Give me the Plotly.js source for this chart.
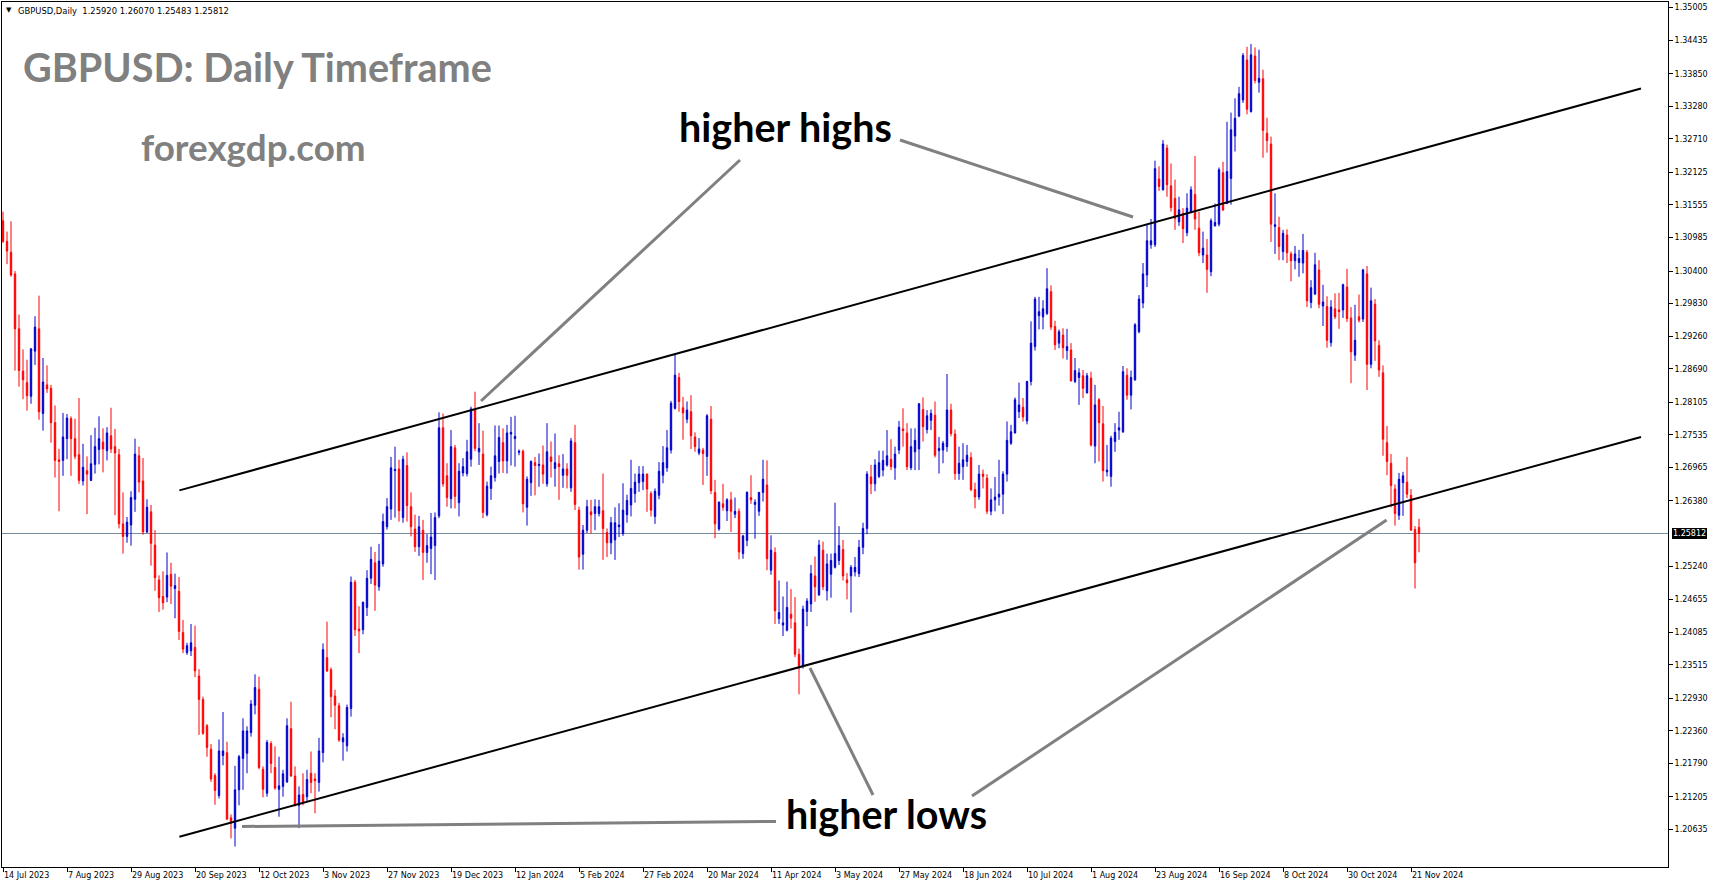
<!DOCTYPE html>
<html><head><meta charset="utf-8">
<script src="https://cdn.plot.ly/plotly-3.0.1.min.js"></script>
<style>html,body{margin:0;padding:0;background:#fff;overflow:hidden}#chart{width:1714px;height:888px}</style>
</head><body><div id="chart"></div>
<script>
// ---- tick labels ----
const dateLabels = ['14 Jul 2023','7 Aug 2023','29 Aug 2023','20 Sep 2023','12 Oct 2023','3 Nov 2023','27 Nov 2023','19 Dec 2023','12 Jan 2024','5 Feb 2024','27 Feb 2024','20 Mar 2024','11 Apr 2024','3 May 2024','27 May 2024','18 Jun 2024','10 Jul 2024','1 Aug 2024','23 Aug 2024','16 Sep 2024','8 Oct 2024','30 Oct 2024','21 Nov 2024'];
const dateLabelBars = [0,16,32,48,64,80,96,112,128,144,160,176,192,208,224,240,256,272,288,304,320,336,352];
const priceTickLabels = ['1.35005','1.34435','1.33850','1.33280','1.32710','1.32125','1.31555','1.30985','1.30400','1.29830','1.29260','1.28690','1.28105','1.27535','1.26965','1.26380','1.25240','1.24655','1.24085','1.23515','1.22930','1.22360','1.21790','1.21205','1.20635'];

// ---- GBPUSD daily OHLC (bar 0 = 14 Jul 2023) ----
const openP = [
1.3128,1.3092,1.3073,1.3035,1.2939,1.2865,1.2845,1.2821,1.2900,1.2939,
1.2791,1.2841,1.2835,1.2775,1.2710,1.2709,1.2747,1.2782,1.2747,1.2719,
1.2673,1.2691,1.2674,1.2702,1.2728,1.2741,1.2726,1.2752,1.2733,1.2719,
1.2598,1.2576,1.2596,1.2641,1.2717,1.2673,1.2584,1.2619,1.2561,1.2500,
1.2471,1.2470,1.2510,1.2485,1.2480,1.2408,1.2373,1.2376,1.2382,1.2332,
1.2291,1.2245,1.2204,1.2158,1.2123,1.2193,1.2198,1.2084,1.2066,1.2133,
1.2188,1.2197,1.2233,1.2281,1.2309,1.2169,1.2127,1.2214,1.2172,1.2134,
1.2139,1.2147,1.2240,1.2157,1.2106,1.2125,1.2121,1.2162,1.2152,1.2146,
1.2198,1.2364,1.2343,1.2297,1.2280,1.2217,1.2210,1.2275,1.2496,1.2414,
1.2413,1.2452,1.2503,1.2530,1.2488,1.2528,1.2593,1.2624,1.2691,1.2694,
1.2609,1.2700,1.2628,1.2589,1.2558,1.2587,1.2548,1.2555,1.2560,1.2612,
1.2766,1.2682,1.2642,1.2731,1.2635,1.2687,1.2686,1.2711,1.2797,1.2724,
1.2720,1.2614,1.2660,1.2679,1.2707,1.2740,1.2708,1.2755,1.2747,1.2723,
1.2725,1.2627,1.2670,1.2705,1.2700,1.2701,1.2668,1.2715,1.2695,1.2703,
1.2683,1.2694,1.2661,1.2740,1.2622,1.2545,1.2587,1.2619,1.2616,1.2616,
1.2621,1.2583,1.2565,1.2570,1.2593,1.2581,1.2614,1.2631,1.2651,1.2670,
1.2672,1.2685,1.2651,1.2611,1.2648,1.2683,1.2696,1.2727,1.2800,1.2854,
1.2801,1.2781,1.2794,1.2750,1.2722,1.2727,1.2716,1.2781,1.2653,1.2589,
1.2633,1.2621,1.2640,1.2615,1.2620,1.2546,1.2569,1.2644,1.2632,1.2620,
1.2653,1.2666,1.2517,1.2548,1.2432,1.2421,1.2412,1.2440,1.2425,1.2370,
1.2350,1.2445,1.2458,1.2507,1.2474,1.2552,1.2481,1.2510,1.2522,1.2534,
1.2553,1.2500,1.2507,1.2514,1.2511,1.2557,1.2590,1.2680,1.2668,1.2681,
1.2692,1.2701,1.2711,1.2696,1.2727,1.2764,1.2757,1.2696,1.2724,1.2729,
1.2798,1.2763,1.2779,1.2788,1.2726,1.2727,1.2733,1.2797,1.2755,1.2686,
1.2698,1.2707,1.2714,1.2658,1.2645,1.2685,1.2678,1.2620,1.2640,1.2645,
1.2650,1.2685,1.2739,1.2757,1.2794,1.2802,1.2778,1.2847,1.2908,1.2962,
1.2960,1.2966,1.3004,1.2943,1.2914,1.2928,1.2901,1.2902,1.2847,1.2854,
1.2857,1.2827,1.2853,1.2734,1.2815,1.2773,1.2689,1.2681,1.2742,1.2762,
1.2759,1.2858,1.2823,1.2850,1.2934,1.2984,1.3033,1.3086,1.3086,1.3201,
1.3182,1.3255,1.3189,1.3167,1.3126,1.3141,1.3107,1.3144,1.3174,1.3115,
1.3068,1.3068,1.3039,1.3119,1.3122,1.3212,1.3158,1.3202,1.3276,1.3311,
1.3339,1.3409,1.3319,1.3416,1.3370,1.3376,1.3281,1.3262,1.3118,1.3116,
1.3074,1.3103,1.3070,1.3058,1.3055,1.3054,1.3073,1.2985,1.3000,1.3042,
1.2979,1.2978,1.2915,1.2974,1.2972,1.2972,1.3012,1.2958,1.2893,1.2960,
1.2956,1.3035,1.2877,1.2982,1.2910,1.2862,1.2740,1.2704,1.2659,1.2613,
1.2670,1.2671,1.2648,1.2588,1.25920];
const highP = [
1.3144,1.3109,1.3127,1.3040,1.2964,1.2903,1.2885,1.2905,1.2961,1.2997,
1.2888,1.2875,1.2841,1.2805,1.2729,1.2792,1.2790,1.2786,1.2782,1.2818,
1.2738,1.2716,1.2753,1.2766,1.2786,1.2765,1.2767,1.2801,1.2764,1.2729,
1.2653,1.2610,1.2655,1.2747,1.2733,1.2713,1.2641,1.2631,1.2587,1.2508,
1.2515,1.2548,1.2530,1.2511,1.2505,1.2430,1.2390,1.2423,1.2420,1.2344,
1.2296,1.2248,1.2213,1.2162,1.2221,1.2269,1.2217,1.2090,1.2175,1.2194,
1.2258,1.2244,1.2290,1.2335,1.2331,1.2174,1.2220,1.2218,1.2209,1.2191,
1.2168,1.2258,1.2287,1.2174,1.2139,1.2162,1.2168,1.2200,1.2162,1.2224,
1.2389,1.2427,1.2347,1.2308,1.2285,1.2232,1.2282,1.2506,1.2500,1.2454,
1.2462,1.2517,1.2558,1.2549,1.2563,1.2616,1.2643,1.2715,1.2733,1.2710,
1.2717,1.2723,1.2653,1.2614,1.2612,1.2605,1.2580,1.2617,1.2618,1.2793,
1.2791,1.2704,1.2762,1.2736,1.2704,1.2713,1.2745,1.2803,1.2829,1.2774,
1.2761,1.2672,1.2698,1.2770,1.2770,1.2765,1.2771,1.2785,1.2787,1.2728,
1.2728,1.2681,1.2709,1.2715,1.2721,1.2735,1.2774,1.2742,1.2756,1.2718,
1.2720,1.2704,1.2748,1.2771,1.2628,1.2596,1.2640,1.2640,1.2641,1.2640,
1.2686,1.2590,1.2610,1.2627,1.2634,1.2669,1.2649,1.2710,1.2686,1.2699,
1.2699,1.2686,1.2655,1.2660,1.2706,1.2734,1.2762,1.2813,1.2896,1.2862,
1.2820,1.2812,1.2823,1.2758,1.2748,1.2731,1.2790,1.2804,1.2675,1.2637,
1.2668,1.2643,1.2654,1.2644,1.2625,1.2579,1.2655,1.2683,1.2641,1.2654,
1.2710,1.2709,1.2578,1.2557,1.2499,1.2471,1.2497,1.2484,1.2470,1.2380,
1.2455,1.2468,1.2526,1.2541,1.2570,1.2567,1.2546,1.2546,1.2635,1.2594,
1.2570,1.2512,1.2526,1.2540,1.2570,1.2600,1.2690,1.2701,1.2711,1.2726,
1.2726,1.2762,1.2746,1.2733,1.2778,1.2800,1.2774,1.2765,1.2765,1.2809,
1.2819,1.2797,1.2798,1.2812,1.2750,1.2743,1.2860,1.2808,1.2763,1.2733,
1.2739,1.2736,1.2723,1.2670,1.2701,1.2693,1.2685,1.2660,1.2680,1.2710,
1.2690,1.2777,1.2771,1.2819,1.2845,1.2818,1.2848,1.2952,1.2995,1.2995,
1.2989,1.3045,1.3015,1.2953,1.2938,1.2940,1.2939,1.2914,1.2888,1.2870,
1.2867,1.2862,1.2864,1.2841,1.2818,1.2804,1.2736,1.2752,1.2774,1.2794,
1.2874,1.2870,1.2866,1.2949,1.2998,1.3054,1.3121,1.3131,1.3233,1.3223,
1.3269,1.3261,1.3228,1.3200,1.3170,1.3150,1.3176,1.3188,1.3241,1.3144,
1.3109,1.3096,1.3132,1.3158,1.3221,1.3231,1.3301,1.3317,1.3342,1.3362,
1.3421,1.3432,1.3437,1.3431,1.3427,1.3392,1.3308,1.3275,1.3176,1.3135,
1.3112,1.3113,1.3074,1.3084,1.3077,1.3105,1.3077,1.3024,1.3072,1.3059,
1.3016,1.2996,1.2989,1.3001,1.3002,1.3018,1.3044,1.2977,1.2981,1.2999,
1.3044,1.3049,1.3011,1.2991,1.2919,1.2875,1.2769,1.2720,1.2667,1.2687,
1.2689,1.2715,1.2659,1.2594,1.26070];
const lowP = [
1.3089,1.3052,1.3030,1.2866,1.2838,1.2816,1.2796,1.2808,1.2876,1.2780,
1.2761,1.2827,1.2740,1.2679,1.2620,1.2682,1.2711,1.2682,1.2711,1.2668,
1.2665,1.2615,1.2673,1.2686,1.2702,1.2688,1.2709,1.2722,1.2613,1.2590,
1.2546,1.2565,1.2560,1.2619,1.2653,1.2579,1.2582,1.2525,1.2481,1.2444,
1.2448,1.2461,1.2458,1.2433,1.2395,1.2372,1.2369,1.2367,1.2330,1.2229,
1.2229,1.2191,1.2147,1.2107,1.2118,1.2176,1.2080,1.2048,1.2034,1.2106,
1.2133,1.2162,1.2226,1.2265,1.2169,1.2120,1.2121,1.2162,1.2133,1.2086,
1.2121,1.2145,1.2156,1.2104,1.2066,1.2106,1.2112,1.2127,1.2092,1.2130,
1.2181,1.2339,1.2260,1.2239,1.2217,1.2184,1.2200,1.2261,1.2402,1.2372,
1.2405,1.2437,1.2493,1.2446,1.2481,1.2523,1.2588,1.2605,1.2609,1.2602,
1.2600,1.2602,1.2576,1.2549,1.2542,1.2500,1.2530,1.2510,1.2500,1.2608,
1.2663,1.2628,1.2625,1.2625,1.2611,1.2681,1.2681,1.2698,1.2725,1.2701,
1.2608,1.2611,1.2640,1.2672,1.2686,1.2687,1.2686,1.2700,1.2698,1.2718,
1.2618,1.2595,1.2647,1.2648,1.2663,1.2668,1.2663,1.2679,1.2663,1.2640,
1.2661,1.2660,1.2654,1.2622,1.2518,1.2518,1.2582,1.2581,1.2587,1.2611,
1.2535,1.2540,1.2545,1.2535,1.2575,1.2577,1.2600,1.2611,1.2635,1.2654,
1.2657,1.2619,1.2611,1.2598,1.2641,1.2669,1.2689,1.2721,1.2798,1.2794,
1.2745,1.2774,1.2729,1.2724,1.2718,1.2666,1.2682,1.2650,1.2573,1.2586,
1.2621,1.2603,1.2584,1.2608,1.2536,1.2537,1.2559,1.2633,1.2572,1.2612,
1.2637,1.2517,1.2509,1.2423,1.2423,1.2402,1.2410,1.2415,1.2365,1.2300,
1.2345,1.2419,1.2444,1.2462,1.2472,1.2482,1.2464,1.2469,1.2520,1.2526,
1.2499,1.2466,1.2443,1.2506,1.2505,1.2545,1.2580,1.2650,1.2655,1.2678,
1.2681,1.2698,1.2692,1.2675,1.2720,1.2733,1.2692,1.2692,1.2692,1.2692,
1.2742,1.2756,1.2762,1.2714,1.2686,1.2704,1.2724,1.2751,1.2675,1.2675,
1.2675,1.2698,1.2655,1.2625,1.2640,1.2660,1.2615,1.2613,1.2620,1.2630,
1.2615,1.2672,1.2736,1.2756,1.2783,1.2777,1.2772,1.2840,1.2901,1.2938,
1.2938,1.2963,1.2937,1.2902,1.2905,1.2887,1.2885,1.2847,1.2844,1.2806,
1.2818,1.2826,1.2733,1.2704,1.2707,1.2672,1.2681,1.2663,1.2724,1.2745,
1.2757,1.2815,1.2798,1.2848,1.2931,1.2975,1.3012,1.3079,1.3082,1.3180,
1.3181,1.3170,1.3144,1.3112,1.3119,1.3089,1.3101,1.3141,1.3112,1.3066,
1.3054,1.3002,1.3031,1.3118,1.3118,1.3145,1.3157,1.3156,1.3249,1.3309,
1.3334,1.3314,1.3317,1.3368,1.3352,1.3238,1.3247,1.3091,1.3070,1.3059,
1.3059,1.3054,1.3022,1.3043,1.3030,1.3036,1.2977,1.2975,1.2998,1.2975,
1.2944,1.2906,1.2908,1.2956,1.2939,1.2958,1.2951,1.2844,1.2883,1.2950,
1.2951,1.2832,1.2870,1.2883,1.2855,1.2717,1.2683,1.2627,1.2595,1.2605,
1.2612,1.2643,1.2586,1.2485,1.25483];
const closeP = [
1.3092,1.3075,1.3033,1.2939,1.2866,1.2850,1.2822,1.2904,1.2942,1.2794,
1.2846,1.2834,1.2775,1.2709,1.2707,1.2750,1.2783,1.2747,1.2716,1.2674,
1.2697,1.2685,1.2703,1.2733,1.2747,1.2729,1.2757,1.2729,1.2722,1.2598,
1.2576,1.2601,1.2644,1.2720,1.2671,1.2584,1.2627,1.2564,1.2504,1.2469,
1.2460,1.2508,1.2489,1.2490,1.2410,1.2379,1.2385,1.2390,1.2341,1.2291,
1.2232,1.2207,1.2152,1.2132,1.2201,1.2201,1.2082,1.2075,1.2133,1.2191,
1.2236,1.2236,1.2283,1.2312,1.2172,1.2134,1.2216,1.2179,1.2136,1.2140,
1.2161,1.2245,1.2157,1.2106,1.2124,1.2112,1.2151,1.2146,1.2149,1.2201,
1.2378,1.2341,1.2296,1.2281,1.2220,1.2224,1.2277,1.2496,1.2413,1.2411,
1.2461,1.2503,1.2536,1.2491,1.2533,1.2602,1.2628,1.2696,1.2693,1.2621,
1.2711,1.2630,1.2593,1.2558,1.2593,1.2548,1.2560,1.2575,1.2609,1.2766,
1.2668,1.2644,1.2733,1.2646,1.2690,1.2698,1.2724,1.2799,1.2730,1.2730,
1.2618,1.2664,1.2682,1.2717,1.2749,1.2708,1.2757,1.2758,1.2751,1.2725,
1.2633,1.2676,1.2707,1.2700,1.2702,1.2685,1.2724,1.2707,1.2705,1.2698,
1.2694,1.2683,1.2743,1.2632,1.2540,1.2587,1.2628,1.2614,1.2628,1.2628,
1.2590,1.2565,1.2600,1.2600,1.2596,1.2622,1.2639,1.2660,1.2671,1.2685,
1.2685,1.2659,1.2622,1.2655,1.2690,1.2705,1.2731,1.2809,1.2858,1.2812,
1.2792,1.2797,1.2752,1.2733,1.2729,1.2721,1.2787,1.2656,1.2598,1.2636,
1.2627,1.2640,1.2620,1.2620,1.2549,1.2577,1.2653,1.2640,1.2636,1.2653,
1.2676,1.2537,1.2552,1.2446,1.2443,1.2425,1.2452,1.2433,1.2370,1.2350,
1.2449,1.2463,1.2511,1.2488,1.2561,1.2488,1.2528,1.2534,1.2546,1.2560,
1.2507,1.2495,1.2522,1.2522,1.2557,1.2590,1.2685,1.2668,1.2701,1.2705,
1.2709,1.2717,1.2698,1.2720,1.2767,1.2761,1.2698,1.2733,1.2744,1.2808,
1.2768,1.2787,1.2791,1.2718,1.2730,1.2739,1.2797,1.2756,1.2686,1.2704,
1.2710,1.2718,1.2658,1.2645,1.2685,1.2681,1.2620,1.2640,1.2645,1.2650,
1.2685,1.2744,1.2759,1.2815,1.2806,1.2785,1.2847,1.2914,1.2991,1.2969,
1.2974,1.3009,1.2942,1.2911,1.2934,1.2906,1.2908,1.2848,1.2866,1.2862,
1.2835,1.2857,1.2736,1.2806,1.2775,1.2691,1.2692,1.2748,1.2758,1.2766,
1.2864,1.2823,1.2854,1.2946,1.2991,1.3035,1.3093,1.3093,1.3219,1.3188,
1.3262,1.3191,1.3151,1.3132,1.3147,1.3114,1.3150,1.3182,1.3131,1.3072,
1.3080,1.3043,1.3128,1.3125,1.3217,1.3147,1.3214,1.3287,1.3307,1.3350,
1.3417,1.3323,1.3418,1.3373,1.3377,1.3286,1.3268,1.3122,1.3121,1.3083,
1.3106,1.3072,1.3058,1.3070,1.3062,1.3076,1.2988,1.3011,1.3051,1.2982,
1.2986,1.2919,1.2977,1.2960,1.2969,1.3016,1.2957,1.2899,1.2919,1.2954,
1.3042,1.2877,1.2988,1.2918,1.2867,1.2746,1.2707,1.2665,1.2616,1.2676,
1.2682,1.2650,1.2587,1.2530,1.25812];

// ---- drawn objects (bar index, price) ----
const upperLineX = [44.1, 409.5];
const upperLineY = [1.26565, 1.33592];
const lowerLineX = [44.1, 409.5];
const lowerLineY = [1.20511, 1.27499];
const highPointerAX = [119.5, 184.25];
const highPointerAY = [1.28128, 1.32342];
const highPointerBX = [224.25, 282.5];
const highPointerBY = [1.32691, 1.31345];
const lowPointerAX = [59.75, 193.25];
const lowPointerAY = [1.20689, 1.20777];
const lowPointerBX = [201.75, 217.5];
const lowPointerBY = [1.2346, 1.2124];
const lowPointerCX = [242.25, 345.9];
const lowPointerCY = [1.21222, 1.26048];

const headerText = 'GBPUSD,Daily  1.25920 1.26070 1.25483 1.25812';
const lastPrice = closeP[closeP.length - 1];
const barIndex = openP.map((_, i) => i);
const priceTickValues = priceTickLabels.map(Number);

const axFont = {family: 'DejaVu Sans', size: 8, color: '#000'};
const bigFont = (size, color) => ({family: 'Lato', size: size, color: color, weight: 700});

const traces = [
  {type: 'candlestick', x: barIndex, open: openP, high: highP, low: lowP, close: closeP,
   increasing: {line: {color: '#0000CD', width: 1}, fillcolor: '#0000CD'},
   decreasing: {line: {color: '#FF0000', width: 1}, fillcolor: '#FF0000'},
   whiskerwidth: 0, hoverinfo: 'skip'},
  {type: 'scatter', mode: 'lines', x: upperLineX, y: upperLineY, line: {color: '#000', width: 2}, hoverinfo: 'skip'},
  {type: 'scatter', mode: 'lines', x: lowerLineX, y: lowerLineY, line: {color: '#000', width: 2}, hoverinfo: 'skip'},
  {type: 'scatter', mode: 'lines', x: highPointerAX, y: highPointerAY, line: {color: '#808080', width: 3}, hoverinfo: 'skip'},
  {type: 'scatter', mode: 'lines', x: highPointerBX, y: highPointerBY, line: {color: '#808080', width: 3}, hoverinfo: 'skip'},
  {type: 'scatter', mode: 'lines', x: lowPointerAX, y: lowPointerAY, line: {color: '#808080', width: 3}, hoverinfo: 'skip'},
  {type: 'scatter', mode: 'lines', x: lowPointerBX, y: lowPointerBY, line: {color: '#808080', width: 3}, hoverinfo: 'skip'},
  {type: 'scatter', mode: 'lines', x: lowPointerCX, y: lowPointerCY, line: {color: '#808080', width: 3}, hoverinfo: 'skip'}
];

const layout = {
  width: 1714, height: 888,
  margin: {l: 2, r: 46, t: 2, b: 21, pad: 0},
  paper_bgcolor: '#ffffff', plot_bgcolor: '#ffffff',
  showlegend: false,
  boxgap: 0.5,
  xaxis: {range: [-0.25, 416.25], tickmode: 'array', tickvals: dateLabelBars, ticktext: dateLabels,
          ticks: 'outside', ticklen: 4, tickwidth: 1, tickcolor: '#000', ticklabelposition: 'outside right',
          tickfont: axFont, tickangle: 0, showline: true, mirror: true, linecolor: '#000', linewidth: 1,
          showgrid: false, zeroline: false, rangeslider: {visible: false}, fixedrange: true},
  yaxis: {side: 'right', range: [1.19981, 1.35104], tickmode: 'array', tickvals: priceTickValues, ticktext: priceTickLabels,
          ticks: 'outside', ticklen: 4, tickwidth: 1, tickcolor: '#000', tickfont: axFont,
          showline: true, mirror: true, linecolor: '#000', linewidth: 1, showgrid: false, zeroline: false, fixedrange: true},
  shapes: [
    {type: 'line', xref: 'paper', x0: 0, x1: 1, yref: 'y', y0: lastPrice, y1: lastPrice,
     line: {color: '#778899', width: 1}, layer: 'below'}
  ],
  annotations: [
    {xref: 'paper', yref: 'paper', x: 0.0045, y: 0.9902, xanchor: 'center', yanchor: 'middle', showarrow: false,
     text: '▼', font: {family: 'DejaVu Sans', size: 7, color: '#000'}},
    {xref: 'paper', yref: 'paper', x: 0.0084, y: 0.9896, xanchor: 'left', yanchor: 'middle', showarrow: false,
     text: headerText.replace(/ /g, '&nbsp;'), font: {family: 'DejaVu Sans', size: 8.4, color: '#000'}},
    {xref: 'paper', yref: 'paper', x: 0.0114, y: 0.9249, xanchor: 'left', yanchor: 'middle', showarrow: false,
     text: 'GBPUSD: Daily Timeframe', font: bigFont(39.6, '#808080')},
    {xref: 'paper', yref: 'paper', x: 0.0822, y: 0.8324, xanchor: 'left', yanchor: 'middle', showarrow: false,
     text: 'forexgdp.com', font: bigFont(36.8, '#808080')},
    {xref: 'paper', yref: 'paper', x: 0.47, y: 0.8555, xanchor: 'center', yanchor: 'middle', showarrow: false,
     text: 'higher highs', font: bigFont(39.5, '#000')},
    {xref: 'paper', yref: 'paper', x: 0.5312, y: 0.0624, xanchor: 'center', yanchor: 'middle', showarrow: false,
     text: 'higher lows', font: bigFont(39.5, '#000')},
    {xref: 'paper', yref: 'y', x: 1, y: lastPrice, xanchor: 'left', yanchor: 'middle', xshift: 4, showarrow: false,
     text: lastPrice.toFixed(5), bgcolor: '#000', borderpad: 1, borderwidth: 0, font: {family: 'DejaVu Sans', size: 8, color: '#fff'}}
  ]
};

Plotly.newPlot('chart', traces, layout, {displayModeBar: false, staticPlot: true});
</script>
</body></html>
